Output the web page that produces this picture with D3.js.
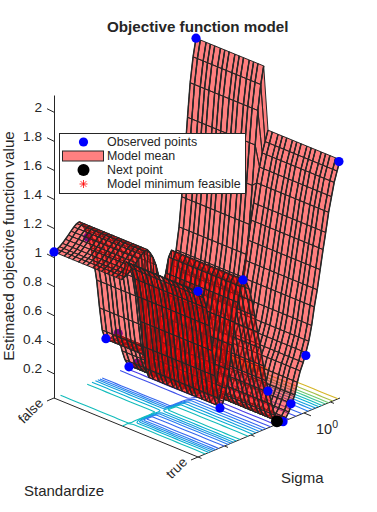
<!DOCTYPE html>
<html>
<head>
<meta charset="utf-8">
<style>
    body { margin: 0; background: #fff; }
    text { font-family: "Liberation Sans", Arial, sans-serif; fill: #262626; }
</style>
<script src="https://cdn.jsdelivr.net/npm/d3@7"></script>
</head>
<body>
<div id="chart"></div>
<script>
// Mesh of the model mean: log10(sigma) rows, standardize columns (false = 1, true = 2)
const logSigmaGrid = [-4, -3.89, -3.79, -3.68, -3.57, -3.46, -3.36, -3.25, -3.14, -3.04, -2.93, -2.82, -2.71, -2.61, -2.5, -2.39, -2.28, -2.18, -2.07, -1.96, -1.86, -1.75, -1.64, -1.53, -1.43, -1.32, -1.21, -1.11, -1, -0.89, -0.78, -0.68, -0.57, -0.46, -0.35, -0.25, -0.14, -0.03, 0.07, 0.18, 0.29, 0.39, 0.5, 0.61, 0.72, 0.82, 0.93, 1.04, 1.14, 1.25, 1.36];
const standardizeGrid = [1, 1.03, 1.07, 1.1, 1.13, 1.17, 1.2, 1.23, 1.27, 1.3, 1.33, 1.37, 1.4, 1.43, 1.47, 1.5, 1.53, 1.57, 1.6, 1.63, 1.67, 1.7, 1.73, 1.77, 1.8, 1.83, 1.87, 1.9, 1.93, 1.97, 2];

// Model mean along sigma for each category
const meanFalse = [1.035, 1.045, 1.055, 1.07, 1.09, 1.11, 1.13, 1.15, 1.165, 1.17, 1.14, 1.1, 1.04, 0.96, 0.86, 0.72, 0.52, 0.36, 0.29, 0.28, 0.28, 0.29, 0.29, 0.24, 0.16, 0.09, 0.05, 0.03, 0.03, 0.03, 0.04, 0.06, 0.09, 0.13, 0.16, 0.21, 0.25, 0.3, 0.34, 0.39, 0.44, 0.51, 0.6, 0.7, 0.85, 1.05, 1.31, 1.58, 1.81, 1.98, 2.1];
const meanTrue = [1.17, 1.15, 1.11, 1.03, 0.9, 0.72, 0.54, 0.38, 0.31, 0.34, 0.42, 0.54, 0.7, 0.85, 0.98, 1.08, 1.12, 1.1, 1.04, 0.95, 0.84, 0.72, 0.6, 0.47, 0.36, 0.27, 0.18, 0.1, 0.05, 0.035, 0.03, 0.05, 0.08, 0.13, 0.18, 0.26, 0.33, 0.38, 0.44, 0.51, 0.61, 0.73, 0.84, 0.97, 1.1, 1.21, 1.34, 1.44, 1.53, 1.6, 1.67];

// Observed points
const obsLogSigma = [-4, -2.72, -2.04, -1.58, -1.17, -0.86, 1.36, -4, -3.17, -2.3, -1.36, -0.79, -0.49, 0.07, 1.32];
const obsStandardize = [1, 1, 1, 1, 1, 1, 1, 2, 2, 2, 2, 2, 2, 2, 2];
const obsValue = [1.035, 1.04, 0.29, 0.29, 0.03, 0.03, 2.1, 1.17, 0.305, 1.12, 0.284, 0.03, 0.13, 0.42, 1.66];
const obsBehind = [false, true, false, true, false, true, false, false, false, false, false, false, false, false, false];

// Next point and model minimum
const nextPoint = [-1.02, 2, 0.05];
const minPoint = [-1.02, 2, 0.05];

const zTicks = [0.2, 0.4, 0.6, 0.8, 1, 1.2, 1.4, 1.6, 1.8, 2];
const sigmaTicks = [1e-4, 1e-3, 1e-2, 1e-1, 1, 10];
const categories = ["false", "true"];
const contourLevels = [0.08, 0.22, 0.36, 0.5, 0.64, 0.78, 0.92, 1.06, 1.2, 1.34, 1.48, 1.62, 1.76, 1.9, 2.04];
const legendLabels = ["Observed points", "Model mean", "Next point", "Model minimum feasible"];

const width = 377, height = 512;

// The floor of the axes box, as three corners on screen
const corner = {left: [54, 398], front: [198, 457], right: [340, 398]};

const sigmaScale = d3.scaleLog().domain([1e-4, Math.pow(10, 1.36)]).range([0, 1]);
const standardizeScale = d3.scaleLinear().domain([1, 2]).range([0, 1]);
const zScale = d3.scaleLinear().domain([0.03, 2.115]).range([398, 95]);

//Orthographic view, so it is only the floor position plus a vertical lift
function project(logSigma, standardize, z) {
    const s = sigmaScale(Math.pow(10, logSigma));
    const t = standardizeScale(standardize);
    const x = corner.left[0] + t * (corner.front[0] - corner.left[0]) + s * (corner.right[0] - corner.front[0]);
    const y = corner.left[1] + t * (corner.front[1] - corner.left[1]) + s * (corner.right[1] - corner.front[1]);
    return [x, y + zScale(z) - zScale.range()[0]];
}

function meanAt(i, j) {
    return standardizeGrid[j] < 1.5 ? meanFalse[i] : meanTrue[i];
}

const svg = d3.select("#chart")
    .append("svg")
    .attr("width", width)
    .attr("height", height);

// Axes box lines
const axisColor = "#262626";
const floorLine = d3.line();
svg.append("path")
    .attr("d", floorLine([corner.left, corner.front, corner.right]))
    .attr("fill", "none")
    .attr("stroke", axisColor);

const zAxis = svg.append("g")
    .attr("transform", `translate(${corner.left[0]},0)`)
    .call(d3.axisLeft(zScale).tickValues(zTicks).tickFormat(d3.format("~g")).tickSizeOuter(0).tickSizeInner(0).tickPadding(12));
zAxis.select(".domain").attr("stroke", axisColor);
zAxis.selectAll(".tick line").attr("stroke", axisColor).attr("x2", -7).attr("y2", -3.5);
zAxis.selectAll(".tick text")
    .attr("dy", "-0.05em")
    .style("font-family", "'Liberation Sans', Arial, sans-serif")
    .style("font-size", "13.6px")
    .attr("fill", axisColor);

// Standardize ticks
categories.forEach((name, i) => {
    const p = project(logSigmaGrid[0], i + 1, zScale.domain()[0]);
    svg.append("line")
        .attr("x1", p[0]).attr("y1", p[1])
        .attr("x2", p[0] - 7).attr("y2", p[1] + 3)
        .attr("stroke", axisColor);
    svg.append("text")
        .attr("transform", `translate(${p[0] - 10},${p[1] + 6}) rotate(-45)`)
        .attr("text-anchor", "end")
        .attr("font-size", 13.6)
        .text(name);
});

// Sigma ticks, one every decade and only 10^0 has a label
sigmaTicks.forEach(d => {
    const p = project(Math.log10(d), 2, zScale.domain()[0]);
    const len = d === 1 ? 7 : 3.5;
    svg.append("line")
        .attr("x1", p[0]).attr("y1", p[1])
        .attr("x2", p[0] + len).attr("y2", p[1] + len * 0.41)
        .attr("stroke", axisColor);
});
const tenLabel = svg.append("text")
    .attr("x", 316).attr("y", 434)
    .attr("font-size", 14.5);
tenLabel.append("tspan").text("10");
tenLabel.append("tspan").attr("dy", -6.5).attr("font-size", 10.5).text("0");

svg.append("text").attr("x", 107).attr("y", 32).attr("font-size", 15.2).attr("font-weight", "bold").text("Objective function model");
svg.append("text").attr("x", 24).attr("y", 496).attr("font-size", 15).text("Standardize");
svg.append("text").attr("x", 281).attr("y", 483).attr("font-size", 15).text("Sigma");
svg.append("text")
    .attr("transform", "translate(14,246) rotate(-90)")
    .attr("text-anchor", "middle")
    .attr("font-size", 15.2)
    .text("Estimated objective function value");

// Contours on the floor, drawn with d3.contours on the same mesh
const nRows = logSigmaGrid.length, nCols = standardizeGrid.length;
const flatMean = [];
logSigmaGrid.forEach((_, i) => standardizeGrid.forEach((_, j) => flatMean.push(meanAt(i, j))));
const contourColor = d3.scaleLinear()
    .domain([0.1, 0.5, 1.0, 1.3, 1.6, 2.0])
    .range(["#4a3fe6", "#2a7cf2", "#00b8cc", "#60cc78", "#d4b428", "#f5e020"]);
const rowToSigma = d3.scaleLinear().domain(d3.range(nRows)).range(logSigmaGrid);
const colToStd = d3.scaleLinear().domain(d3.range(nCols)).range(standardizeGrid);
const contours = d3.contours().size([nCols, nRows]).thresholds(contourLevels)(flatMean);
const onBorder = q => q[0] === 0 || q[1] === 0 || q[0] === nCols || q[1] === nRows;
contours.forEach(c => {
    let d = "";
    c.coordinates.forEach(poly => poly.forEach(ring => {
        for (let k = 1; k < ring.length; k++) {
            if (onBorder(ring[k - 1]) || onBorder(ring[k])) continue;
            const a = project(rowToSigma(ring[k - 1][1] - 0.5), colToStd(ring[k - 1][0] - 0.5), zScale.domain()[0]);
            const b = project(rowToSigma(ring[k][1] - 0.5), colToStd(ring[k][0] - 0.5), zScale.domain()[0]);
            d += `M${a[0]},${a[1]}L${b[0]},${b[1]}`;
        }
    }));
    svg.append("path")
        .attr("d", d)
        .attr("fill", "none")
        .attr("stroke", contourColor(c.value))
        .attr("stroke-width", 1.1);
});

function drawPoints(filter) {
    svg.append("g").selectAll("circle")
        .data(d3.range(obsValue.length).filter(filter))
        .join("circle")
        .attr("cx", i => project(obsLogSigma[i], obsStandardize[i], obsValue[i])[0])
        .attr("cy", i => project(obsLogSigma[i], obsStandardize[i], obsValue[i])[1])
        .attr("r", 4.6)
        .attr("fill", "#0000ff");
}

drawPoints(i => obsBehind[i]);

// Translucent surface. One row at a time from the back (large sigma) to the front,
// fills first and then edges, so nearer sheets tint the lines of the sheets behind them
function quadPath(q) {
    const pts = [[q.i, q.j], [q.i + 1, q.j], [q.i + 1, q.j + 1], [q.i, q.j + 1]]
        .map(c => project(logSigmaGrid[c[0]], standardizeGrid[c[1]], meanAt(c[0], c[1])));
    return d3.line()(pts) + "Z";
}

for (let i = nRows - 2; i >= 0; i--) {
    const rowQuads = d3.range(nCols - 1).map(j => ({i: i, j: j}));
    const row = svg.append("g");
    row.selectAll("path.fill")
        .data(rowQuads)
        .join("path")
        .attr("class", "fill")
        .attr("d", quadPath)
        .attr("fill", "#ff0000")
        .attr("fill-opacity", 0.5)
        .attr("stroke", "none");
    row.selectAll("path.edge")
        .data(rowQuads)
        .join("path")
        .attr("class", "edge")
        .attr("d", quadPath)
        .attr("fill", "none")
        .attr("stroke", "#262626")
        .attr("stroke-width", 1);
    // The lines running along sigma are the heavy ones
    row.selectAll("path.stripe")
        .data(standardizeGrid)
        .join("path")
        .attr("class", "stripe")
        .attr("d", (d, j) => d3.line()([
            project(logSigmaGrid[i], d, meanAt(i, j)),
            project(logSigmaGrid[i + 1], d, meanAt(i + 1, j))
        ]))
        .attr("fill", "none")
        .attr("stroke", "#262626")
        .attr("stroke-width", 1.45);
}

drawPoints(i => !obsBehind[i]);

// Asterisk marker, used for the minimum and the legend
function star(g, x, y, r) {
    d3.range(4).forEach(k => {
        const a = k * Math.PI / 4;
        g.append("line")
            .attr("x1", x - r * Math.cos(a)).attr("y1", y - r * Math.sin(a))
            .attr("x2", x + r * Math.cos(a)).attr("y2", y + r * Math.sin(a))
            .attr("stroke", "#ff0000")
            .attr("stroke-width", 0.8);
    });
}
const minPos = project(minPoint[0], minPoint[1], minPoint[2]);
star(svg, minPos[0], minPos[1], 4);

const nextPos = project(nextPoint[0], nextPoint[1], nextPoint[2]);
svg.append("circle").attr("cx", nextPos[0]).attr("cy", nextPos[1]).attr("r", 6).attr("fill", "#000");

// Legend
const legend = svg.append("g").attr("transform", "translate(59.5,133.5)");
legend.append("rect")
    .attr("width", 186).attr("height", 60)
    .attr("fill", "#fff")
    .attr("stroke", axisColor);
legendLabels.forEach((label, i) => {
    legend.append("text")
        .attr("x", 47.5).attr("y", 12.6 + i * 14.1)
        .attr("font-size", 12.4)
        .text(label);
});
legend.append("circle").attr("cx", 24).attr("cy", 8.5).attr("r", 4.6).attr("fill", "#0000ff");
legend.append("rect").attr("x", 3).attr("y", 17.5).attr("width", 41).attr("height", 10)
    .attr("fill", "#ff8080").attr("stroke", axisColor);
legend.append("circle").attr("cx", 24).attr("cy", 36.5).attr("r", 6).attr("fill", "#000");
star(legend, 24, 50.5, 4);
</script>
</body>
</html>
